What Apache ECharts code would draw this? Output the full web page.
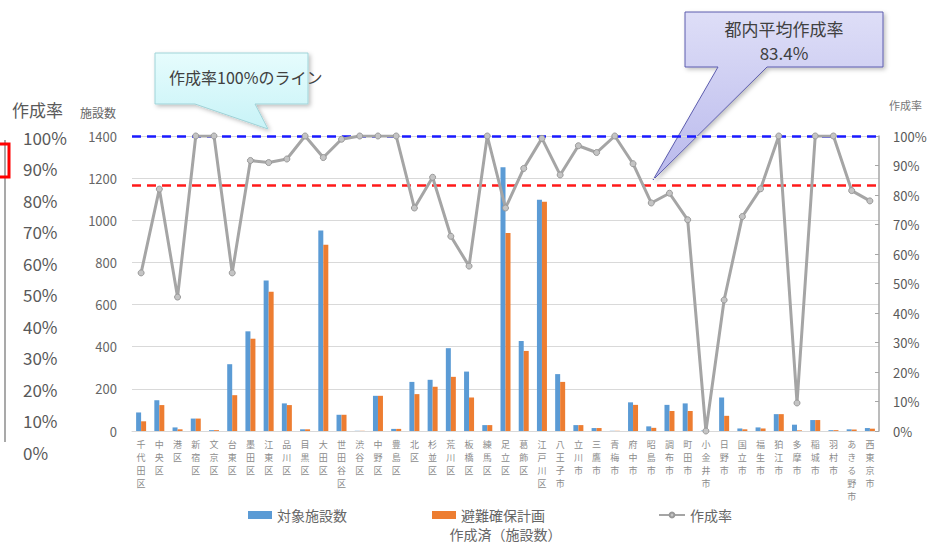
<!DOCTYPE html>
<html>
<head>
<meta charset="utf-8">
<script src="https://cdn.jsdelivr.net/npm/echarts@6/dist/echarts.min.js"></script>
<style>
  html, body { margin: 0; padding: 0; background: #fff; }
  #chart { width: 931px; height: 546px; }
</style>
</head>
<body>
<div id="chart"></div>
<script>
// 区市名
const categories = [
  '千代田区', '中央区', '港区', '新宿区', '文京区', '台東区', '墨田区', '江東区', '品川区', '目黒区',
  '大田区', '世田谷区', '渋谷区', '中野区', '豊島区', '北区', '杉並区', '荒川区', '板橋区', '練馬区',
  '足立区', '葛飾区', '江戸川区', '八王子市', '立川市', '三鷹市', '青梅市', '府中市', '昭島市', '調布市',
  '町田市', '小金井市', '日野市', '国立市', '福生市', '狛江市', '多摩市', '稲城市', '羽村市', 'あきる野市',
  '西東京市'
]
// 対象施設数
const targetCounts = [
  88, 146, 17, 59, 4, 317, 473, 714, 131, 8,
  951, 77, 1, 167, 10, 233, 243, 393, 282, 28,
  1252, 427, 1097, 270, 28, 14, 1, 136, 22, 124,
  131, 2, 159, 12, 17, 80, 30, 52, 4, 8,
  14
]
// 避難確保計画（作成済）
const planCounts = [
  46, 123, 8, 59, 4, 170, 438, 661, 123, 8,
  884, 77, 1, 167, 10, 175, 210, 257, 159, 28,
  940, 380, 1088, 233, 28, 14, 1, 124, 15, 95,
  95, 0, 72, 8, 12, 80, 3, 52, 4, 7,
  11
]
// 作成率（%）
const rates = [
  53.6, 82, 45.4, 100, 100, 53.6, 91.7, 91, 92.2, 100,
  92.7, 98.9, 100, 100, 100, 75.6, 86, 66, 55.9, 100,
  75.6, 89, 99.2, 86.8, 96.7, 94.4, 100, 90.6, 77.3, 80.6,
  71.6, 0, 44.4, 72.7, 82.1, 100, 9.5, 100, 100, 81.5,
  78
]
const avgRate = 83.4
const fullRate = 100

const FONT = '"Noto Sans CJK JP", "Noto Sans", sans-serif'

const chart = echarts.init(document.getElementById('chart'), null, { renderer: 'svg' })

const legendText = { fontSize: 14, color: '#666', fontFamily: FONT }

const option = {
  backgroundColor: '#fff',
  textStyle: { fontFamily: FONT },
  grid: [
    { left: 132, right: 52, top: 136, bottom: 114 },
    // 左端の大きい作成率目盛
    { left: 60, width: 10, top: 137, bottom: 94 }
  ],
  legend: [
    { data: ['対象施設数'], left: 243, top: 503, icon: 'rect', itemWidth: 24, itemHeight: 8, textStyle: legendText },
    { data: ['避難確保計画'], left: 427, top: 503, icon: 'rect', itemWidth: 24, itemHeight: 8, textStyle: legendText },
    { data: ['作成率'], left: 653, top: 503, itemWidth: 26, itemHeight: 6, textStyle: legendText }
  ],
  xAxis: [
    {
      type: 'category',
      data: categories,
      axisLine: { lineStyle: { color: '#d9d9d9' } },
      axisTick: { show: false },
      axisLabel: {
        interval: 0,
        margin: 7,
        fontSize: 9,
        lineHeight: 13,
        color: '#8c8c8c',
        formatter: v => v.split('').join('\n')
      },
      name: '作成済（施設数）',
      nameLocation: 'middle',
      nameGap: 96,
      nameTextStyle: { fontSize: 14, color: '#666' }
    },
    { gridIndex: 1, type: 'value', show: false }
  ],
  yAxis: [
    {
      type: 'value',
      min: 0,
      max: 1400,
      interval: 200,
      axisLine: { show: false },
      axisTick: { show: false },
      axisLabel: { fontSize: 13, color: '#666', margin: 15, formatter: v => String(v) },
      splitLine: { lineStyle: { color: '#d9d9d9' } }
    },
    {
      type: 'value',
      position: 'right',
      min: 0,
      max: 100,
      interval: 10,
      axisLine: { show: true, lineStyle: { color: '#a6a6a6', width: 1.5 } },
      axisTick: { show: true, inside: true, length: 4, lineStyle: { color: '#a6a6a6' } },
      axisLabel: { fontSize: 13, color: '#595959', margin: 14, formatter: '{value}%' },
      splitLine: { show: false }
    },
    {
      gridIndex: 1,
      type: 'value',
      min: 0,
      max: 100,
      interval: 10,
      axisLine: { show: false },
      axisTick: { show: false },
      splitLine: { show: false },
      axisLabel: { fontSize: 17, color: '#595959', align: 'left', margin: 37, formatter: '{value}%' }
    }
  ],
  series: [
    {
      name: '対象施設数',
      type: 'bar',
      data: targetCounts,
      barWidth: 5,
      barGap: '0%',
      itemStyle: { color: '#5b9bd5' }
    },
    {
      name: '避難確保計画',
      type: 'bar',
      data: planCounts,
      barWidth: 5,
      itemStyle: { color: '#ed7d31' }
    },
    {
      name: '作成率',
      type: 'line',
      yAxisIndex: 1,
      data: rates,
      symbol: 'circle',
      symbolSize: 6,
      lineStyle: { color: '#a5a5a5', width: 3 },
      itemStyle: { color: '#c4c4c4', borderColor: '#999', borderWidth: 1 },
      z: 5,
      markLine: {
        silent: true,
        symbol: 'none',
        label: { show: false },
        data: [
          { yAxis: fullRate, lineStyle: { color: '#1a1aff', type: [9, 6], width: 2.5 } },
          { yAxis: avgRate, lineStyle: { color: '#ff1a1a', type: [9, 6], width: 2.5 } }
        ]
      }
    }
  ],
  graphic: [
    // 軸タイトル
    { type: 'text', left: 12, top: 101, style: { text: '作成率', fontSize: 17, fill: '#595959', fontFamily: FONT } },
    { type: 'text', left: 80, top: 106, style: { text: '施設数', fontSize: 12, fill: '#666', fontFamily: FONT } },
    { type: 'text', left: 889, top: 99, style: { text: '作成率', fontSize: 11, fill: '#777', fontFamily: FONT } },
    // 左端の枠の名残
    { type: 'line', shape: { x1: 5, y1: 140, x2: 5, y2: 442 }, style: { stroke: '#8c8c8c', lineWidth: 1.5 } },
    { type: 'rect', shape: { x: -4, y: 144, width: 13, height: 33 }, style: { fill: 'none', stroke: '#ff0000', lineWidth: 3 } },
    // 吹き出し：100%ライン
    {
      type: 'polygon',
      shape: { points: [[155, 53], [308, 53], [308, 104], [255, 104], [268, 129], [195, 104], [155, 104]] },
      style: {
        fill: new echarts.graphic.LinearGradient(0, 0, 0, 1, [
          { offset: 0, color: '#e6fcfd' },
          { offset: 1, color: '#c8f3f7' }
        ]),
        stroke: '#9fd3d8',
        lineWidth: 1,
        shadowBlur: 4,
        shadowOffsetX: 2,
        shadowOffsetY: 2,
        shadowColor: 'rgba(0,0,0,0.25)'
      }
    },
    {
      type: 'text', left: 169, top: 69,
      style: { text: '作成率100%のライン', fontSize: 16, fill: '#404040', fontFamily: FONT }
    },
    // 吹き出し：都内平均
    {
      type: 'polygon',
      shape: { points: [[685, 12], [883, 12], [883, 67], [767, 67], [653, 180], [718, 67], [685, 67]] },
      style: {
        fill: new echarts.graphic.LinearGradient(0, 0, 0, 1, [
          { offset: 0, color: '#dedef7' },
          { offset: 1, color: '#b9b9ec' }
        ]),
        stroke: '#5c5cae',
        lineWidth: 1,
        shadowBlur: 4,
        shadowOffsetX: 2,
        shadowOffsetY: 2,
        shadowColor: 'rgba(0,0,0,0.25)'
      }
    },
    {
      type: 'text', x: 784, y: 16,
      style: {
        text: '都内平均作成率\n' + avgRate + '%',
        fontSize: 17,
        lineHeight: 24,
        align: 'center',
        fill: '#404040',
        fontFamily: FONT
      }
    }
  ]
}

chart.setOption(option)
window.addEventListener('resize', () => {
  chart.resize()
})
</script>
</body>
</html>
